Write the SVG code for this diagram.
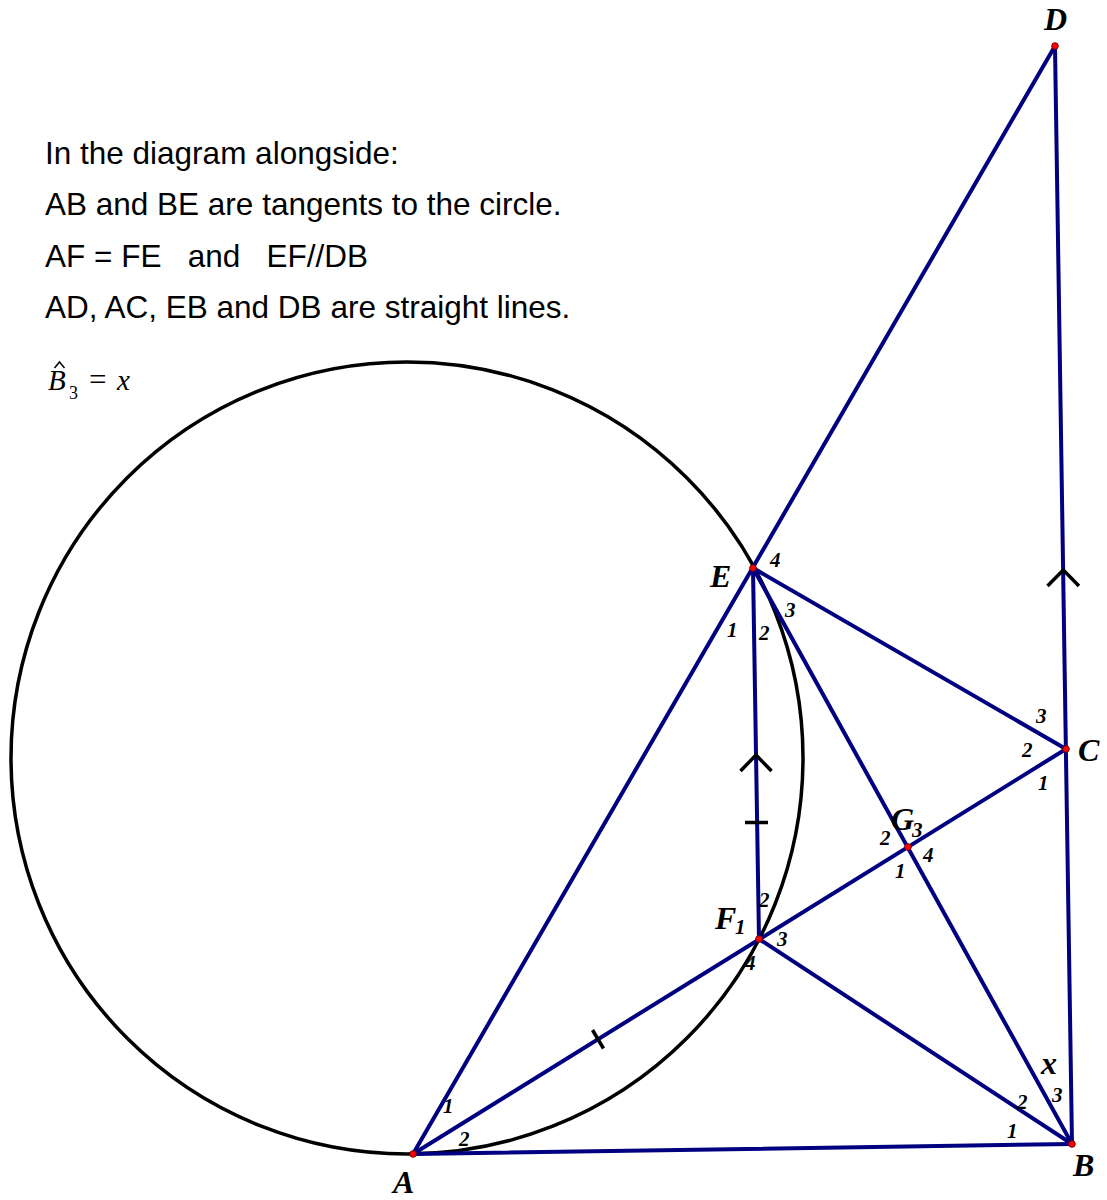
<svg xmlns="http://www.w3.org/2000/svg" width="1107" height="1200" viewBox="0 0 1107 1200">
<style>
.ln{stroke:#000080;stroke-width:4;fill:none;stroke-linecap:round}
.mk{stroke:#000;stroke-width:3.5;fill:none}
.pt{fill:#ff0000;stroke:#800000;stroke-width:1}
.pl{font-family:"Liberation Serif",serif;font-weight:bold;font-style:italic;font-size:32px;fill:#000}
.an{font-family:"Liberation Serif",serif;font-weight:bold;font-style:italic;font-size:21px;fill:#000}
.bx{font-family:"Liberation Serif",serif;font-weight:bold;font-style:italic;font-size:32px;fill:#000}
.tx{font-family:"Liberation Sans",Arial,sans-serif;font-size:31.5px;fill:#000}
.eq{font-family:"Liberation Serif",serif;font-size:31px;fill:#000}
.eqi{font-family:"Liberation Serif",serif;font-size:29px;font-style:italic;fill:#000}
.eqs{font-family:"Liberation Serif",serif;font-size:18px;fill:#000}
</style>
<rect width="1107" height="1200" fill="#fff"/>
<g id="text-block">
<text class="tx" x="45" y="164">In the diagram alongside:</text>
<text class="tx" x="45" y="215">AB and BE are tangents to the circle.</text>
<text class="tx" x="45" y="267" xml:space="preserve">AF = FE   and   EF//DB</text>
<text class="tx" x="45" y="318">AD, AC, EB and DB are straight lines.</text>
<text class="eqi" x="48" y="390">B</text>
<polyline points="54.5,368 59.5,362 64.5,368" fill="none" stroke="#000" stroke-width="1.5"/>
<text class="eqs" x="69" y="399">3</text>
<text class="eq" x="89" y="390">=</text>
<text class="eqi" x="117" y="390">x</text>
</g>
<g id="circle">
<circle cx="407" cy="758" r="396" fill="none" stroke="#000" stroke-width="3.5"/>
</g>
<g id="connectors">
<line class="ln" x1="413" y1="1154" x2="1055" y2="46"/>
<line class="ln" x1="413" y1="1154" x2="1072" y2="1144"/>
<line class="ln" x1="413" y1="1154" x2="1066" y2="749"/>
<line class="ln" x1="753" y1="568" x2="1072" y2="1144"/>
<line class="ln" x1="1055" y1="46" x2="1072" y2="1144"/>
<line class="ln" x1="753" y1="568" x2="759" y2="939"/>
<line class="ln" x1="753" y1="568" x2="1066" y2="749"/>
<line class="ln" x1="759" y1="939" x2="1072" y2="1144"/>
</g>
<g id="marks">
<polyline class="mk" points="740.5,771 756,755 771.5,771"/>
<line class="mk" x1="745" y1="822.5" x2="768" y2="822.5"/>
<polyline class="mk" points="1047.5,586 1063.3,570 1079,586"/>
<line class="mk" x1="592.5" y1="1030" x2="603.5" y2="1048.5"/>
</g>
<g id="node-D"><circle class="pt" cx="1055" cy="46" r="3.3"/><text class="pl" x="1044" y="30">D</text></g>
<g id="node-E"><circle class="pt" cx="753" cy="568" r="3.3"/><text class="pl" x="710" y="587">E</text>
<text class="an" x="770" y="567">4</text><text class="an" x="727" y="637">1</text><text class="an" x="759" y="640">2</text><text class="an" x="785" y="617">3</text></g>
<g id="node-C"><circle class="pt" cx="1066" cy="749" r="3.3"/><text class="pl" x="1078" y="761">C</text>
<text class="an" x="1036" y="723">3</text><text class="an" x="1022" y="757">2</text><text class="an" x="1038" y="790">1</text></g>
<g id="node-G"><circle class="pt" cx="908" cy="847" r="3.3"/><text class="pl" x="891" y="830">G</text>
<text class="an" x="912" y="837">3</text><text class="an" x="880" y="845">2</text><text class="an" x="923" y="862">4</text><text class="an" x="895" y="878">1</text></g>
<g id="node-F"><circle class="pt" cx="759" cy="939" r="3.3"/><text class="pl" x="715" y="929">F</text>
<text class="an" x="735" y="934">1</text><text class="an" x="759" y="907">2</text><text class="an" x="777" y="946">3</text><text class="an" x="745" y="970">4</text></g>
<g id="node-A"><circle class="pt" cx="413" cy="1154" r="3.3"/><text class="pl" x="393" y="1193">A</text>
<text class="an" x="443" y="1113">1</text><text class="an" x="459" y="1146">2</text></g>
<g id="node-B"><circle class="pt" cx="1072" cy="1144" r="3.3"/><text class="pl" x="1073" y="1176">B</text>
<text class="bx" x="1041" y="1074">x</text><text class="an" x="1052" y="1102">3</text><text class="an" x="1017" y="1109">2</text><text class="an" x="1007" y="1138">1</text></g>
</svg>
